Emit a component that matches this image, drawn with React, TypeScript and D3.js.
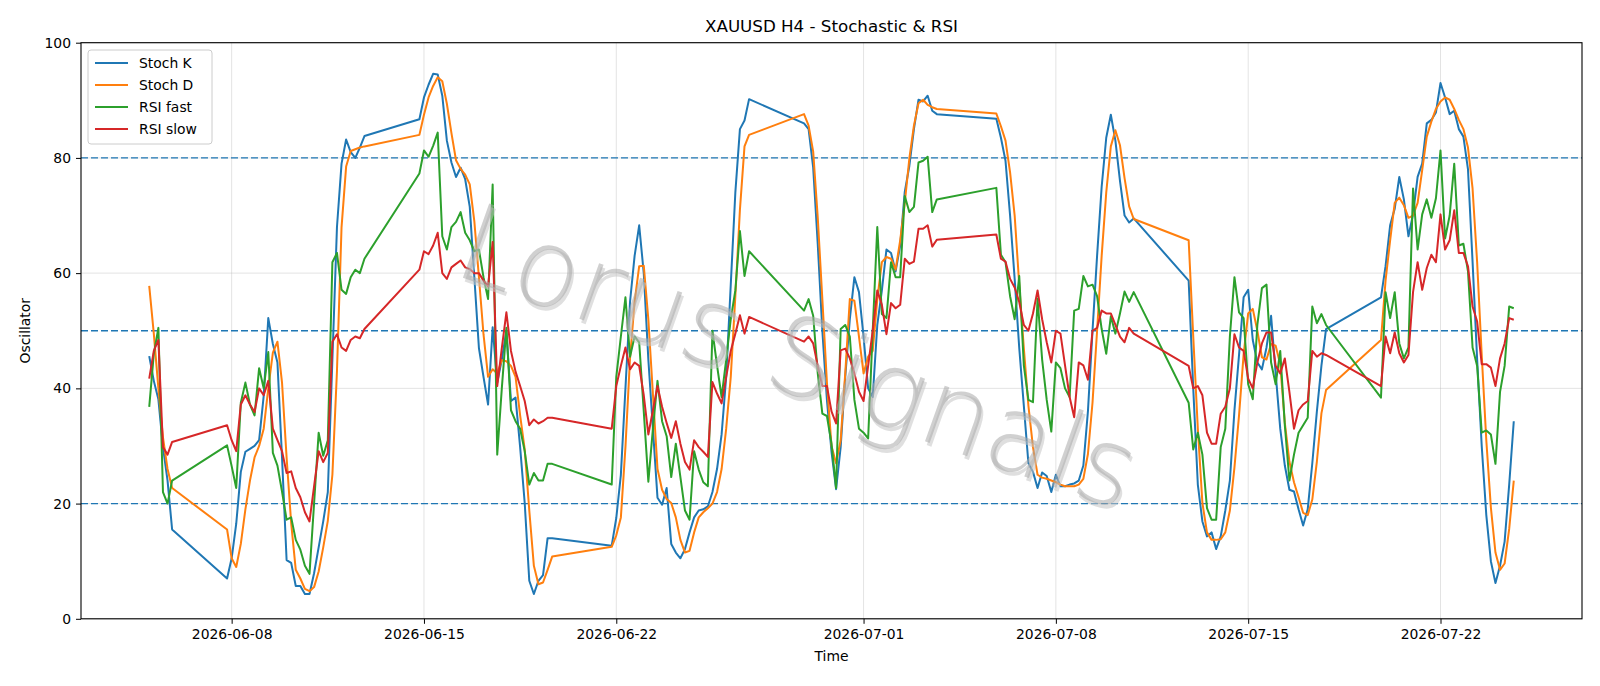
import React, { useEffect, useRef } from 'react';
import * as d3 from 'd3';

// trading sessions: first H4 bar of each week and number of bars in it
const sessionStarts = [
  '2026-06-05T00:00', '2026-06-07T20:00', '2026-06-14T20:00', '2026-06-21T20:00',
  '2026-06-28T20:00', '2026-07-05T20:00', '2026-07-12T20:00', '2026-07-19T20:00',
];
const sessionBars = [6, 31, 30, 31, 30, 31, 31, 30];

const tickDates = ['2026-06-08', '2026-06-15', '2026-06-22', '2026-07-01', '2026-07-08', '2026-07-15', '2026-07-22'];
const yTicks = [0, 20, 40, 60, 80, 100];
const levels = [80, 50, 20];

const stochK = [
  45.6, 41.3, 38.1, 29.8, 24, 15.5,
  7.0, 10.5, 16.5, 25.5, 29, 29.5, 30, 31, 38.7, 52.2, 47.7, 44.5, 28, 10.2, 9.7, 5.7, 5.7, 4.3, 4.3, 7.9, 12.4, 16.9, 22, 45, 68, 79, 83.2, 81, 80, 81.8, 83.8,
  86.7, 90.5, 92.7, 94.6, 94.5, 90.8, 83, 79.2, 76.7, 78.3, 76.3, 71.5, 59.3, 47, 42, 37.2, 50.6, 41, 45, 50, 37.8, 38.4, 29.8, 20.1, 6.6, 4.3, 6.6, 7.6, 14, 14,
  12.7, 17.5, 25, 40, 55, 63, 68.3, 60, 45, 33, 21, 19.8, 22.7, 13, 11.5, 10.5, 12.1, 15, 17.6, 18.8, 19, 19.5, 22, 26, 32, 42, 58, 74, 85, 86.5, 90.2,
  86, 85, 78.3, 65, 50, 38, 29, 22.5, 29.8, 42, 52, 59.3, 56.7, 49, 40, 38.5, 51, 57, 64.1, 63.5, 60.3, 64.8, 74.1, 78.6, 85, 90.1, 89.8, 90.8, 88.2, 87.6,
  86.8, 83.5, 79.5, 70, 59, 47, 37, 27, 25.5, 22.7, 25.4, 24.8, 22, 25, 23, 23, 23.3, 23.5, 24, 26.6, 36, 50, 63, 75, 83.5, 87.5, 83, 76, 70, 68.8, 69.5,
  58.7, 40, 23.3, 16.9, 14.3, 15, 12.1, 14.3, 18.8, 24, 36.2, 45.8, 55.8, 57.1, 48.4, 44.5, 43.3, 47.1, 52.6, 42.6, 33, 26.6, 22.4, 22.1, 19, 16.2, 19, 27, 36, 44, 50.3,
  55.8, 61.2, 68.3, 71.2, 76.7, 72.8, 66.4, 70.2, 76.7, 79, 86, 86.6, 87.9, 93, 90.5, 87.6, 88.2, 85, 83.7, 78, 62, 45, 30, 18, 10, 6.2, 9.2, 13.4, 23.3, 34.3,
];

const stochD = [
  57.8, 49.5, 40, 31.5, 26, 22.7,
  15.5, 10.5, 9, 13, 19, 24, 28, 30, 33, 40, 46.2, 48.1, 41, 28, 16.6, 8.5, 7, 5.2, 4.8, 5.5, 8.2, 12.4, 17, 25, 43, 68, 78.5, 81.2, 81.5, 81.8, 82,
  84, 87.5, 90.5, 92.5, 94, 93.3, 89.4, 84.3, 79.6, 78.1, 77.1, 75.4, 69, 59.3, 49.4, 42, 43.3, 42.6, 44.9, 44.7, 43.9, 42, 35.3, 29.4, 18.8, 9.2, 6, 6.3, 8.5, 10.8,
  12.5, 14.5, 17.6, 29.8, 45.2, 55, 61.2, 61.3, 52, 39, 26, 22.4, 20.8, 20.1, 17.6, 13.7, 11.5, 11.8, 15, 17.6, 18.5, 19.2, 20, 22, 26, 33, 42, 56, 71, 82, 84,
  87.6, 85.6, 81.1, 69.6, 55.5, 41, 30, 27, 31, 42.6, 55.5, 55.2, 49, 42.6, 45.5, 46.5, 55.5, 61.9, 62.8, 62.5, 60.6, 65.7, 72.2, 79.9, 85.6, 89.5, 90.1, 89.2, 88.8, 88.5,
  87.7, 85.5, 83, 77.5, 70, 58, 47, 37, 29.8, 25, 24.5, 24.3, 24, 23.7, 23.3, 23, 23, 23, 23.3, 24.3, 28.6, 37.5, 50, 63, 74, 82, 84.8, 82.2, 76.5, 71.6, 69.4,
  65.7, 49, 33, 20.1, 15, 13.7, 13.7, 13.8, 15, 18.8, 26.3, 35.3, 45.9, 53, 53.8, 50, 45.4, 45, 47.7, 47.4, 44.2, 34, 27.3, 23.7, 21.1, 18.4, 18, 20.7, 27.3, 35.7, 39.7,
  48.4, 58.7, 65.7, 72.2, 73.1, 71.8, 69.6, 70, 72.2, 77.9, 83.7, 86.3, 88.5, 89.8, 90.5, 90.1, 88.5, 86.6, 85, 81.8, 74.7, 61.9, 45.8, 31, 19.3, 11.5, 8.5, 9.6, 15.6, 24,
];

const rsiFast = [
  36.8, 46, 50.5, 22, 20, 24,
  30.1, 26.5, 22.7, 37.5, 41, 37.2, 35.3, 43.5, 40, 46.3, 28.8, 26.6, 22.1, 17.2, 17.6, 13.7, 12, 9.2, 7.8, 20, 32.3, 28.3, 31, 61.9, 63.5, 57.1, 56.4, 59.3, 60.6, 60, 62.5,
  77.3, 81.3, 80.2, 82.1, 84.4, 66.4, 64.1, 68, 68.9, 70.6, 67, 65.7, 63.8, 64.1, 59.3, 55.5, 75.4, 28.5, 40, 50.5, 36.2, 34.3, 33, 29.1, 23.3, 25.3, 24, 24, 26.9, 26.9,
  23.3, 42, 49, 55.8, 45.5, 49, 48, 36, 23.8, 33, 41.3, 34.3, 31.7, 24.6, 30.4, 24.6, 18.8, 17.2, 29.1, 25.9, 23.7, 23, 50, 44, 38.5, 45, 52, 57, 67.3, 59.5, 63.8,
  53.5, 55.5, 52.6, 42.6, 35.6, 35.2, 30.4, 22.7, 50.3, 51, 49, 38, 33, 32.3, 31.3, 50, 68, 52.9, 52.2, 61.9, 59.3, 59.3, 73.4, 70.6, 71.5, 79.2, 79.5, 80.2, 70.6, 72.8,
  74.8, 63.2, 61.9, 56, 52, 59.5, 44, 38, 37.6, 55.6, 45, 38, 32.5, 44.5, 43.5, 40, 38.5, 53.5, 53.8, 59.5, 57.7, 58, 56, 50.3, 46, 52.5, 49.5, 53, 56.8, 55, 56.7,
  37.5, 29.4, 32.3, 28.5, 19.2, 17.2, 17.2, 29.8, 33, 49, 59.3, 53.2, 52.2, 40.7, 38.1, 51, 57.4, 58, 44.5, 40.7, 46.5, 33.6, 24, 28.5, 32.3, 33.6, 34.9, 54.2, 51.3, 52.9, 51,
  38.4, 56.7, 52.2, 56.7, 47.8, 45.2, 47.1, 74.7, 64.1, 70.2, 72.8, 69.6, 73, 81.3, 66, 70, 79, 64.8, 65.1, 60.3, 47.1, 43.9, 32.3, 32.7, 32, 26.9, 39.4, 43.9, 54.2, 53.9,
];

const rsiSlow = [
  41.7, 46.5, 48.4, 29.8, 28.5, 30.7,
  33.6, 31, 29.1, 37.2, 38.8, 37.2, 35.9, 40, 38.8, 41.3, 33, 31, 29.1, 25.3, 25.6, 22.7, 21.1, 18.5, 16.9, 23, 29.1, 27.2, 28.8, 48.1, 49.4, 47.1, 46.5, 48.4, 49, 48.7, 50.3,
  60.6, 63.8, 63.3, 64.8, 67, 60, 59, 61, 61.6, 62.2, 61, 60.7, 60, 60, 58.7, 57.7, 65.4, 40.4, 47, 53.2, 46.5, 42.9, 40.4, 37.8, 33.6, 34.6, 33.9, 34.3, 34.9, 34.9,
  33, 40.4, 43.9, 47.1, 43.3, 44.5, 43.9, 38.8, 32, 36.2, 40.4, 36.8, 34, 31.4, 34.3, 30.4, 27.2, 25.9, 31, 29.8, 29, 28.1, 41.1, 39.1, 37.4, 42, 46.5, 49.5, 52.7, 49.5, 52.4,
  48.1, 49, 47.8, 43.9, 40.4, 40.4, 36, 33.9, 46.6, 46.9, 45.2, 42.6, 39.4, 37.8, 43.9, 50, 57, 54.5, 49.4, 54.8, 53.9, 54.5, 62.5, 61.6, 62, 67.7, 67.7, 68.3, 64.6, 65.8,
  66.7, 62.5, 62, 59, 57.5, 55, 51, 50, 53, 57, 52, 48, 44.5, 50, 49.5, 44, 38.5, 35, 44.5, 44, 41.5, 50, 50.5, 53.5, 53, 53, 51, 49, 48, 50.5, 49.5,
  43.9, 40, 40.4, 38.8, 32.3, 30.4, 30.4, 35.6, 36.8, 40, 49.4, 47.1, 46.5, 41.7, 40, 44.5, 47.8, 49.7, 49.7, 43.9, 42.6, 45.2, 39.4, 33, 36.2, 37.2, 37.8, 46.5, 45.5, 46.1, 45.8,
  40.4, 49, 46.1, 49.7, 46.1, 44.5, 45.8, 56.7, 61.9, 57.1, 60.9, 63.2, 61.9, 70.2, 64.1, 65.7, 70.9, 63.5, 63.5, 61.2, 54.2, 51.6, 44.2, 44.2, 43.6, 40.4, 45.2, 47.8, 52.2, 51.9,
];

const seriesNames = ['Stoch K', 'Stoch D', 'RSI fast', 'RSI slow'];
const seriesColors = ['#1f77b4', '#ff7f0e', '#2ca02c', '#d62728'];

const W = 1600;
const H = 686;
const FONT = 'DejaVu Sans, sans-serif';

const App: React.FC = () => {
  const svgRef = useRef<SVGSVGElement | null>(null);

  useEffect(() => {
    if (!svgRef.current) return;
    const svg = d3.select(svgRef.current);
    svg.selectAll('*').remove();

    const margin = { top: 42.7, right: 18, bottom: 67.2, left: 81 };
    const parse = d3.utcParse('%Y-%m-%dT%H:%M');
    const parseDay = d3.utcParse('%Y-%m-%d');

    // bar times, H4 spacing inside each session
    const times: Date[] = [];
    sessionStarts.forEach((s, i) => {
      const t0 = parse(s)!.getTime();
      for (let k = 0; k < sessionBars[i]; k++) times.push(new Date(t0 + k * 4 * 3600 * 1000));
    });

    const all = [stochK, stochD, rsiFast, rsiSlow];
    const n = Math.min(times.length, ...all.map(a => a.length));

    const [t0, t1] = [times[0], times[n - 1]];
    const pad = (t1.getTime() - t0.getTime()) * 0.05;
    const x = d3.scaleUtc()
      .domain([new Date(t0.getTime() - pad), new Date(t1.getTime() + pad)])
      .range([margin.left, W - margin.right]);
    const y = d3.scaleLinear().domain([0, 100]).range([H - margin.bottom, margin.top]);

    svg.attr('width', W).attr('height', H).attr('viewBox', `0 0 ${W} ${H}`);
    svg.append('rect').attr('width', W).attr('height', H).attr('fill', '#fff');

    const ticks = tickDates.map(d => parseDay(d)!);

    // grid
    const grid = svg.append('g').attr('stroke', '#b0b0b0').attr('stroke-opacity', 0.35).attr('stroke-width', 1);
    ticks.forEach(t => {
      grid.append('line').attr('x1', x(t)).attr('x2', x(t)).attr('y1', margin.top).attr('y2', H - margin.bottom);
    });
    yTicks.forEach(v => {
      grid.append('line').attr('x1', margin.left).attr('x2', W - margin.right).attr('y1', y(v)).attr('y2', y(v));
    });

    // reference levels
    levels.forEach(v => {
      svg.append('line')
        .attr('x1', margin.left).attr('x2', W - margin.right)
        .attr('y1', y(v)).attr('y2', y(v))
        .attr('stroke', '#1f77b4').attr('stroke-width', 1.3).attr('stroke-dasharray', '7,3');
    });

    // series
    all.forEach((vals, si) => {
      const pts = d3.range(n).map(i => [x(times[i]), y(vals[i])] as [number, number]);
      svg.append('path')
        .attr('d', d3.line()(pts))
        .attr('fill', 'none')
        .attr('stroke', seriesColors[si])
        .attr('stroke-width', 2)
        .attr('stroke-linejoin', 'round');
    });

    // watermark, thin grey letters with a soft shadow, over the lines
    const wm = svg.append('g').attr('transform', 'translate(796,364) rotate(19.5)');
    const wmText = (dx: number, dy: number, color: string, op: number) =>
      wm.append('text')
        .attr('x', dx).attr('y', dy)
        .attr('text-anchor', 'middle').attr('dominant-baseline', 'middle')
        .attr('font-family', "'DejaVu Sans ExtraLight', 'DejaVu Sans', sans-serif")
        .attr('font-weight', 200).attr('font-size', 108)
        .attr('fill', color).attr('fill-opacity', op)
        .text('Lorus Signals');
    wmText(3, 3, '#c4c4c4', 0.55);
    wmText(0, 0, '#a9a9a9', 0.55);

    // frame
    svg.append('rect')
      .attr('x', margin.left).attr('y', margin.top)
      .attr('width', W - margin.right - margin.left).attr('height', H - margin.bottom - margin.top)
      .attr('fill', 'none').attr('stroke', '#000').attr('stroke-width', 1.1);

    // axes
    const xAxis = svg.append('g')
      .attr('transform', `translate(0,${H - margin.bottom})`)
      .call(d3.axisBottom(x).tickValues(ticks).tickFormat(d => d3.utcFormat('%Y-%m-%d')(d as Date)).tickSize(5).tickPadding(5));
    xAxis.select('.domain').remove();
    xAxis.selectAll('text').attr('font-family', FONT).attr('font-size', 13.9).attr('fill', '#000');

    const yAxis = svg.append('g')
      .attr('transform', `translate(${margin.left},0)`)
      .call(d3.axisLeft(y).tickValues(yTicks).tickSize(5).tickPadding(5));
    yAxis.select('.domain').remove();
    yAxis.selectAll('text').attr('font-family', FONT).attr('font-size', 13.9).attr('fill', '#000');

    // labels
    svg.append('text')
      .attr('x', (margin.left + W - margin.right) / 2).attr('y', 32)
      .attr('text-anchor', 'middle').attr('font-family', FONT).attr('font-size', 16.7)
      .text('XAUUSD H4 - Stochastic & RSI');
    svg.append('text')
      .attr('x', (margin.left + W - margin.right) / 2).attr('y', 661)
      .attr('text-anchor', 'middle').attr('font-family', FONT).attr('font-size', 13.9)
      .text('Time');
    svg.append('text')
      .attr('transform', `translate(30,${(margin.top + H - margin.bottom) / 2}) rotate(-90)`)
      .attr('text-anchor', 'middle').attr('font-family', FONT).attr('font-size', 13.9)
      .text('Oscillator');

    // legend
    const lg = svg.append('g').attr('transform', `translate(88,50)`);
    lg.append('rect')
      .attr('width', 124).attr('height', 94).attr('rx', 3)
      .attr('fill', '#fff').attr('fill-opacity', 0.8)
      .attr('stroke', '#cccccc').attr('stroke-width', 1);
    seriesNames.forEach((name, i) => {
      const yy = 13 + i * 22;
      lg.append('line').attr('x1', 7).attr('x2', 40).attr('y1', yy).attr('y2', yy)
        .attr('stroke', seriesColors[i]).attr('stroke-width', 2);
      lg.append('text').attr('x', 51).attr('y', yy).attr('dy', '0.35em')
        .attr('font-family', FONT).attr('font-size', 13.9).text(name);
    });
  }, []);

  return (
    <div style={{ position: 'absolute', left: 0, top: 0, width: W, height: H, background: '#fff' }}>
      <svg ref={svgRef} style={{ display: 'block' }} />
    </div>
  );
};

export default App;
